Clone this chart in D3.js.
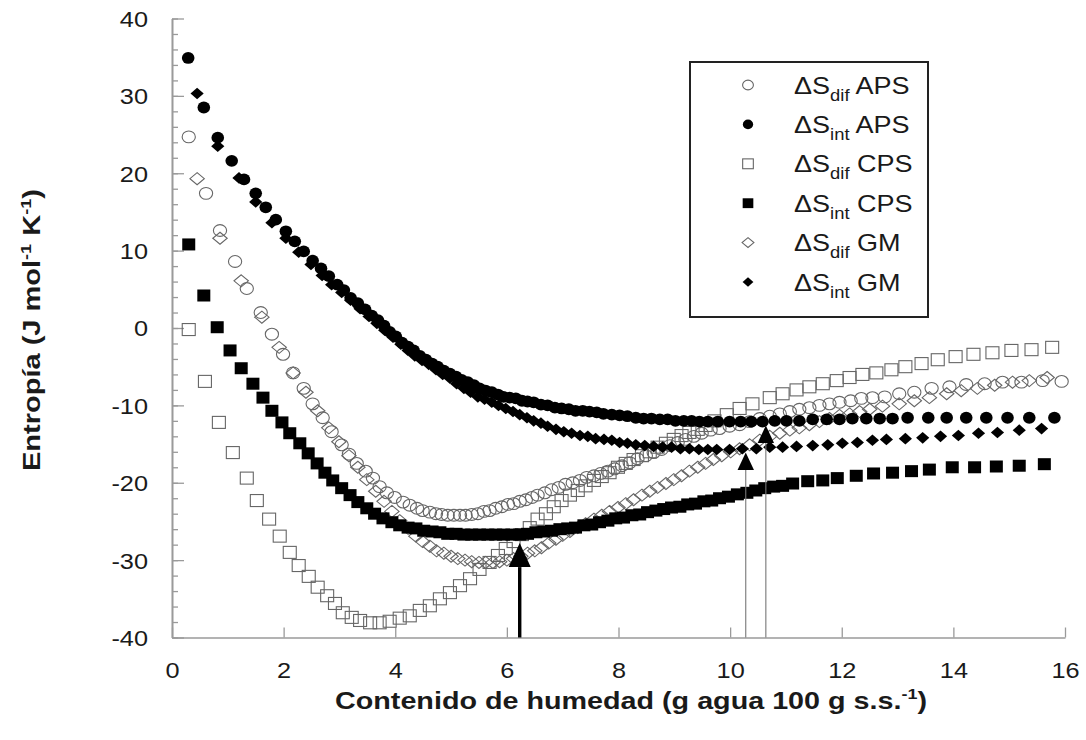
<!DOCTYPE html>
<html><head><meta charset="utf-8">
<script src="https://cdn.jsdelivr.net/npm/d3@7"></script>
<style>
body{margin:0;background:#fff}
svg{display:block}
text{font-family:"Liberation Sans",Arial,Helvetica,sans-serif}
</style>
</head><body>
<svg id="c" width="1086" height="740"></svg>
<script>
// ---------- data ----------
const xTicks = [0,2,4,6,8,10,12,14,16];
const yMajorTicks = [-40,-30,-20,-10,0,10,20,30,40];
const yMinorTicks = d3.range(-40,41,2);

const apsDifX = [0.30,0.61,0.86,1.13,1.34,1.59,1.79,1.99,2.17,2.36,2.52,2.70,2.86,3.04,3.17,3.31,3.47,3.60,3.72,3.85,3.99,4.14,4.26,4.39,4.49,4.62,4.73,4.83,4.94,5.05,5.16,5.26,5.37,5.48,5.59,5.69,5.80,5.91,6.02,6.12,6.23,6.34,6.45,6.55,6.68,6.80,6.93,7.05,7.18,7.31,7.43,7.56,7.68,7.81,7.93,8.06,8.20,8.34,8.49,8.63,8.77,8.92,9.06,9.20,9.35,9.49,9.65,9.81,9.99,10.17,10.35,10.53,10.71,10.89,11.07,11.24,11.42,11.60,11.78,11.96,12.16,12.35,12.55,12.77,13.03,13.30,13.61,13.93,14.23,14.56,14.88,15.22,15.60,15.94];
const apsDifY = [24.7,17.4,12.6,8.6,5.1,2.0,-0.8,-3.4,-5.8,-7.8,-9.8,-11.6,-13.4,-15.1,-16.3,-17.5,-18.5,-19.4,-20.5,-21.3,-21.9,-22.5,-22.9,-23.3,-23.6,-23.8,-24.0,-24.1,-24.2,-24.2,-24.2,-24.2,-24.1,-24.0,-23.7,-23.6,-23.3,-23.1,-22.8,-22.7,-22.4,-22.2,-21.9,-21.6,-21.3,-20.9,-20.6,-20.2,-20.0,-19.7,-19.3,-19.1,-18.8,-18.5,-18.2,-17.8,-17.4,-16.9,-16.5,-16.1,-15.7,-15.2,-14.8,-14.4,-14.0,-13.6,-13.2,-13.0,-12.7,-12.5,-12.1,-11.7,-11.4,-11.1,-10.8,-10.5,-10.3,-10.0,-9.8,-9.6,-9.4,-9.1,-9.0,-8.9,-8.5,-8.3,-7.8,-7.6,-7.3,-7.2,-7.0,-7.0,-6.8,-6.9];

const apsIntX = [0.29,0.57,0.82,1.07,1.29,1.50,1.68,1.86,2.04,2.20,2.36,2.52,2.67,2.81,2.96,3.08,3.20,3.33,3.46,3.58,3.69,3.80,3.90,4.01,4.12,4.23,4.33,4.44,4.55,4.66,4.76,4.87,4.98,5.09,5.19,5.30,5.41,5.51,5.62,5.73,5.84,5.94,6.05,6.16,6.27,6.37,6.48,6.61,6.73,6.86,6.98,7.11,7.23,7.36,7.48,7.61,7.73,7.88,8.02,8.16,8.31,8.45,8.59,8.74,8.88,9.02,9.17,9.31,9.45,9.60,9.78,9.99,10.19,10.38,10.58,10.80,11.01,11.24,11.48,11.73,11.96,12.19,12.44,12.68,12.91,13.18,13.55,13.88,14.23,14.59,14.97,15.36,15.81];
const apsIntY = [34.9,28.5,24.6,21.6,19.2,17.4,15.6,14.0,12.5,11.2,9.9,8.7,7.7,6.7,5.6,4.9,3.9,3.2,2.4,1.6,1.0,0.3,-0.5,-1.1,-1.9,-2.4,-2.9,-3.6,-4.1,-4.6,-5.0,-5.5,-5.9,-6.3,-6.7,-7.0,-7.4,-7.8,-8.1,-8.3,-8.6,-8.9,-9.0,-9.1,-9.4,-9.5,-9.6,-9.9,-10.0,-10.3,-10.4,-10.5,-10.7,-10.7,-10.8,-10.9,-11.1,-11.2,-11.3,-11.4,-11.6,-11.7,-11.7,-11.8,-11.8,-12.0,-12.0,-12.0,-12.1,-12.1,-12.1,-12.1,-12.1,-12.1,-12.1,-12.0,-12.0,-12.0,-11.8,-11.8,-11.8,-11.7,-11.7,-11.7,-11.7,-11.6,-11.6,-11.6,-11.6,-11.6,-11.6,-11.6,-11.6];

const cpsDifX = [0.30,0.59,0.84,1.09,1.34,1.52,1.74,1.93,2.11,2.27,2.45,2.61,2.78,2.92,3.06,3.22,3.37,3.55,3.72,3.90,4.08,4.26,4.44,4.62,4.80,4.98,5.16,5.34,5.51,5.69,5.84,5.98,6.12,6.27,6.41,6.55,6.70,6.84,6.98,7.13,7.27,7.41,7.56,7.70,7.84,7.99,8.13,8.27,8.42,8.56,8.70,8.85,8.99,9.13,9.27,9.42,9.56,9.72,9.94,10.17,10.40,10.71,10.94,11.19,11.42,11.66,11.91,12.14,12.37,12.62,12.89,13.14,13.43,13.72,14.04,14.36,14.70,15.04,15.40,15.77];
const cpsDifY = [-0.2,-6.9,-12.2,-16.1,-19.4,-22.3,-24.7,-26.9,-29.0,-30.7,-32.1,-33.5,-34.6,-35.6,-36.8,-37.4,-37.8,-38.1,-38.1,-37.9,-37.5,-37.2,-36.5,-35.9,-35.0,-34.2,-33.3,-32.4,-31.2,-30.3,-29.4,-28.5,-27.6,-26.7,-25.8,-24.7,-24.0,-23.1,-22.3,-21.6,-21.0,-20.4,-19.7,-19.2,-18.7,-18.0,-17.5,-17.0,-16.5,-16.0,-15.4,-14.9,-14.4,-13.9,-13.5,-13.1,-12.6,-12.0,-11.2,-10.4,-9.8,-9.0,-8.5,-8.0,-7.6,-7.2,-6.8,-6.4,-6.0,-5.8,-5.4,-5.0,-4.6,-4.1,-3.7,-3.4,-3.2,-2.9,-2.8,-2.5];

const cpsIntX = [0.30,0.57,0.81,1.04,1.24,1.45,1.63,1.79,1.97,2.11,2.29,2.44,2.60,2.74,2.88,3.04,3.19,3.33,3.49,3.63,3.78,3.94,4.08,4.23,4.37,4.51,4.66,4.80,4.94,5.09,5.23,5.37,5.51,5.66,5.80,5.94,6.09,6.23,6.37,6.52,6.66,6.80,6.95,7.09,7.23,7.38,7.52,7.66,7.81,7.95,8.09,8.24,8.38,8.52,8.67,8.81,8.95,9.10,9.24,9.38,9.53,9.67,9.81,9.97,10.13,10.30,10.46,10.62,10.78,10.94,11.12,11.39,11.66,11.92,12.26,12.57,12.91,13.25,13.57,13.98,14.38,14.77,15.18,15.63];
const cpsIntY = [10.8,4.2,0.1,-2.9,-5.2,-7.2,-9.0,-10.7,-12.2,-13.6,-14.9,-16.2,-17.5,-18.7,-19.7,-20.7,-21.6,-22.5,-23.3,-24.0,-24.6,-25.1,-25.5,-25.8,-25.9,-26.2,-26.3,-26.4,-26.6,-26.6,-26.7,-26.7,-26.7,-26.7,-26.7,-26.7,-26.7,-26.7,-26.6,-26.4,-26.3,-26.2,-26.0,-25.9,-25.8,-25.5,-25.4,-25.1,-24.9,-24.6,-24.5,-24.2,-24.1,-23.8,-23.6,-23.4,-23.2,-23.1,-22.8,-22.7,-22.4,-22.3,-22.0,-21.8,-21.5,-21.3,-21.0,-20.7,-20.5,-20.4,-20.1,-19.8,-19.7,-19.4,-19.1,-18.8,-18.7,-18.5,-18.3,-18.0,-18.0,-17.9,-17.8,-17.6];

const gmDifX = [0.45,0.86,1.24,1.61,1.92,2.17,2.40,2.61,2.81,2.99,3.17,3.33,3.49,3.65,3.80,3.94,4.08,4.23,4.37,4.49,4.62,4.74,4.87,5.00,5.12,5.25,5.37,5.50,5.62,5.75,5.87,6.00,6.12,6.25,6.37,6.50,6.62,6.75,6.88,7.00,7.13,7.27,7.41,7.56,7.70,7.84,7.99,8.13,8.27,8.42,8.56,8.70,8.85,8.99,9.13,9.27,9.42,9.56,9.70,9.85,10.01,10.17,10.35,10.53,10.71,10.89,11.07,11.24,11.42,11.60,11.78,11.96,12.14,12.32,12.50,12.73,13.03,13.30,13.57,13.88,14.14,14.43,14.74,15.06,15.36,15.68];
const gmDifY = [19.3,11.6,6.1,1.4,-2.5,-5.8,-8.3,-10.7,-12.9,-14.7,-16.5,-18.0,-19.6,-21.1,-22.4,-23.7,-24.9,-25.9,-26.9,-27.6,-28.2,-28.8,-29.1,-29.5,-29.8,-30.0,-30.2,-30.3,-30.3,-30.3,-30.2,-30.0,-29.8,-29.5,-29.1,-28.8,-28.4,-27.8,-27.3,-26.8,-26.3,-25.8,-25.3,-24.7,-24.2,-23.7,-23.2,-22.7,-22.2,-21.6,-21.1,-20.6,-20.1,-19.6,-19.1,-18.5,-18.0,-17.5,-17.0,-16.5,-16.0,-15.6,-15.1,-14.5,-14.0,-13.6,-13.2,-12.9,-12.5,-12.1,-11.7,-11.3,-11.1,-10.8,-10.5,-10.1,-9.8,-9.4,-9.0,-8.5,-8.1,-7.8,-7.4,-7.0,-6.8,-6.4];

const gmIntX = [0.45,0.82,1.20,1.50,1.79,2.04,2.27,2.49,2.69,2.86,3.04,3.20,3.37,3.53,3.67,3.81,3.96,4.10,4.23,4.35,4.48,4.60,4.73,4.85,4.98,5.10,5.23,5.35,5.48,5.60,5.73,5.85,5.98,6.11,6.23,6.36,6.48,6.61,6.73,6.88,7.02,7.16,7.31,7.45,7.59,7.74,7.88,8.02,8.16,8.31,8.47,8.63,8.79,8.95,9.11,9.27,9.44,9.60,9.76,9.99,10.22,10.47,10.71,10.94,11.19,11.48,11.75,12.01,12.28,12.55,12.80,13.14,13.45,13.77,14.09,14.45,14.79,15.18,15.58];
const gmIntY = [30.3,23.5,19.4,16.3,13.6,11.6,9.8,8.2,6.8,5.6,4.6,3.6,2.5,1.5,0.6,-0.3,-1.2,-2.1,-2.9,-3.6,-4.2,-4.7,-5.4,-6.0,-6.5,-7.2,-7.8,-8.3,-8.9,-9.2,-9.6,-10.0,-10.4,-10.8,-11.2,-11.6,-12.0,-12.3,-12.7,-13.1,-13.4,-13.6,-13.9,-14.0,-14.3,-14.4,-14.5,-14.8,-14.9,-15.1,-15.2,-15.3,-15.4,-15.4,-15.6,-15.6,-15.7,-15.7,-15.7,-15.7,-15.6,-15.6,-15.4,-15.4,-15.3,-15.2,-15.1,-14.9,-14.8,-14.5,-14.4,-14.3,-14.2,-14.0,-13.9,-13.6,-13.5,-13.2,-13.0];

const arrowX = [6.23, 10.28, 10.64];
const arrowTipY = [-27.8, -16.1, -12.6];
const arrowHeavy = [true, false, false];

const legendSub = ["dif","int","dif","int","dif","int"];
const legendName = ["APS","APS","CPS","CPS","GM","GM"];
const legendShape = ["circle","circle","square","square","diamond","diamond"];
const legendFilled = [false,true,false,true,false,true];

// ---------- setup ----------
const svg = d3.select("#c");
const x = d3.scaleLinear().domain([0,16]).range([172,1065]);
const y = d3.scaleLinear().domain([-40,40]).range([637.5,18.5]);
const AX = "#9a9a9a";
const TXT = "#1a1a1a";
const SX = 1.15;
const fmt = d => String(d);

const zip = (xs, ys) => xs.map((v,i)=>[v, ys[i]]);
const series = [
  {pts: zip(apsDifX, apsDifY), shape:"circle",  filled:false},
  {pts: zip(cpsDifX, cpsDifY), shape:"square",  filled:false},
  {pts: zip(gmDifX,  gmDifY),  shape:"diamond", filled:false},
  {pts: zip(cpsIntX, cpsIntY), shape:"square",  filled:true},
  {pts: zip(gmIntX,  gmIntY),  shape:"diamond", filled:true},
  {pts: zip(apsIntX, apsIntY), shape:"circle",  filled:true}
];

function drawMarker(g, shape, filled, cx, cy, k) {
  const fill = filled ? "#000" : "none";
  const stroke = filled ? "none" : "#666";
  let el;
  if (shape === "circle") {
    el = g.append("ellipse").attr("cx",cx).attr("cy",cy)
      .attr("rx",(filled?6.3:6.6)*k).attr("ry",5.9*k);
  } else if (shape === "square") {
    const w = 13*k, h = 12*k;
    el = g.append("rect").attr("x",cx-w/2).attr("y",cy-h/2).attr("width",w).attr("height",h);
  } else {
    const hw = (filled?6.6:7.2)*k, hh = (filled?5.8:6.0)*k;
    el = g.append("path").attr("d",`M${cx},${cy-hh}L${cx+hw},${cy}L${cx},${cy+hh}L${cx-hw},${cy}Z`);
  }
  el.attr("fill",fill).attr("stroke",stroke).attr("stroke-width",filled?0:1.1);
}

// ---------- axes ----------
const gyMinor = svg.append("g").attr("transform","translate(172,0)")
  .call(d3.axisLeft(y).tickValues(yMinorTicks).tickSize(-6).tickSizeOuter(0).tickFormat(""));
const gyMajor = svg.append("g").attr("transform","translate(172,0)")
  .call(d3.axisLeft(y).tickValues(yMajorTicks).tickSize(-12).tickSizeOuter(0).tickPadding(24).tickFormat(fmt));
const gx = svg.append("g").attr("transform","translate(0,637.5)")
  .call(d3.axisBottom(x).tickValues(xTicks).tickSize(-10).tickSizeOuter(0).tickPadding(25).tickFormat(fmt));

[gyMinor, gyMajor, gx].forEach(g=>{
  g.select(".domain").attr("stroke",AX).attr("stroke-width",1.6);
  g.selectAll(".tick line").attr("stroke",AX).attr("stroke-width",1.3);
});
gyMajor.selectAll(".tick text").each(function(){
  const t = d3.select(this);
  const xx = +t.attr("x");
  t.attr("x",0).attr("transform",`translate(${xx},0) scale(${SX},1)`)
   .attr("fill",TXT).style("font-size","22px").attr("dy","0.36em");
});
gx.selectAll(".tick text").attr("transform",`scale(${SX},1)`)
  .attr("fill",TXT).style("font-size","22px");

// ---------- points ----------
const gp = svg.append("g");
series.forEach(s=>{
  s.pts.forEach(p=>drawMarker(gp, s.shape, s.filled, x(p[0]), y(p[1]), 1));
});

// ---------- arrows ----------
const ga = svg.append("g");
arrowX.forEach((ax,i)=>{
  const px = x(ax), tip = y(arrowTipY[i]);
  const heavy = arrowHeavy[i];
  const th = heavy ? 24 : 17.5, hw = heavy ? 11 : 8.2;
  ga.append("line").attr("x1",px).attr("x2",px).attr("y1",y(-40)).attr("y2",tip+th)
    .attr("stroke",heavy?"#000":"#777").attr("stroke-width",heavy?3.4:1.1);
  ga.append("path").attr("d",`M${px},${tip}L${px+hw},${tip+th}L${px-hw},${tip+th}Z`).attr("fill","#000");
});

// ---------- legend ----------
const gl = svg.append("g");
gl.append("rect").attr("x",690).attr("y",62).attr("width",238).attr("height",255)
  .attr("fill","#fff").attr("stroke","#222").attr("stroke-width",2);
legendSub.forEach((sub,i)=>{
  const ry = 85 + i*39.4;
  drawMarker(gl, legendShape[i], legendFilled[i], 748, ry, 0.82);
  const t = gl.append("text").attr("transform",`translate(794,${ry+8.5}) scale(${SX},1)`).attr("fill",TXT);
  t.append("tspan").style("font-size","23.5px").text("ΔS");
  t.append("tspan").style("font-size","16px").attr("dy",7).text(sub);
  t.append("tspan").style("font-size","23.5px").attr("dy",-7).text(" " + legendName[i]);
});

// ---------- titles ----------
const xt = svg.append("text").attr("x",631).attr("y",709).attr("text-anchor","middle")
  .attr("font-weight","bold").attr("fill",TXT).style("font-size","24px")
  .attr("textLength",592).attr("lengthAdjust","spacingAndGlyphs");
xt.append("tspan").text("Contenido de humedad (g agua 100 g s.s.");
xt.append("tspan").style("font-size","15px").attr("dy",-10).text("-1");
xt.append("tspan").style("font-size","24px").attr("dy",10).text(")");

const yt = svg.append("text").attr("transform","translate(40,330) rotate(-90)").attr("text-anchor","middle")
  .attr("font-weight","bold").attr("fill",TXT).style("font-size","24px")
  .attr("textLength",282).attr("lengthAdjust","spacingAndGlyphs");
yt.append("tspan").text("Entropía (J mol");
yt.append("tspan").style("font-size","15px").attr("dy",-9).text("-1");
yt.append("tspan").style("font-size","24px").attr("dy",9).text(" K");
yt.append("tspan").style("font-size","15px").attr("dy",-9).text("-1");
yt.append("tspan").style("font-size","24px").attr("dy",9).text(")");
</script>
</body></html>
